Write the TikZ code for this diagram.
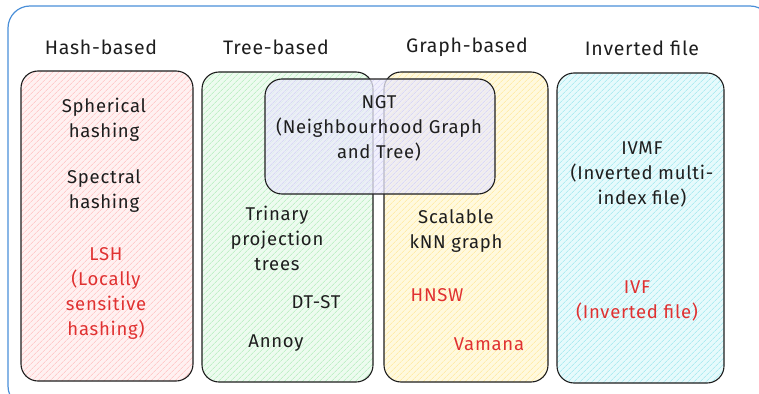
\documentclass[tikz,border=0pt]{standalone}
\usepackage{fontspec}
\setmainfont{Fira Sans}[LetterSpace=4]
\usetikzlibrary{patterns.meta}
\definecolor{ink}{HTML}{1E1E1E}
\definecolor{inkred}{HTML}{E03131}
\definecolor{frameblue}{HTML}{4A8FD8}
\definecolor{redbg}{HTML}{FFF1F1}
\definecolor{redln}{HTML}{FFB8B8}
\definecolor{greenbg}{HTML}{EDFBEF}
\definecolor{greenln}{HTML}{A8EBB2}
\definecolor{yellowbg}{HTML}{FFF9DE}
\definecolor{yellowln}{HTML}{FFE68F}
\definecolor{cyanbg}{HTML}{E6FAFC}
\definecolor{cyanln}{HTML}{92E3EC}
\definecolor{violetbg}{HTML}{ECEBFB}
\definecolor{violetln}{HTML}{C9C6F4}
\tikzset{
  catbox/.style n args={2}{draw=ink, line width=1.1pt, rounded corners=17pt,
    preaction={fill=#1},
    pattern={Lines[angle=45,distance=4pt,line width=0.55pt]}, pattern color=#2,
    inner sep=0pt},
  heading/.style={text=ink, font=\fontsize{19.5}{25}\selectfont},
  item/.style={text=ink, align=center, font=\fontsize{18.5}{25}\selectfont},
  reditem/.style={item, text=inkred}
}
\begin{document}
\begin{tikzpicture}[x=1pt,y=-1pt]
\useasboundingbox (0,0) rectangle (759,393);
% outer frame
\draw[frameblue, line width=1.2pt, rounded corners=22pt] (8,6) rectangle (772,408);

% category panels
\node[catbox={redbg}{redln}, minimum width=172pt, minimum height=310pt] (hash) at (107,226) {};
\node[catbox={greenbg}{greenln}, minimum width=171pt, minimum height=310pt] (tree) at (287.5,227) {};
\node[catbox={yellowbg}{yellowln}, minimum width=164pt, minimum height=310pt] (graph) at (466,227) {};
\node[catbox={cyanbg}{cyanln}, minimum width=167pt, minimum height=310pt] (inv) at (640.5,228) {};
% NGT overlaps tree and graph panels, translucent so their edges show through
\path[preaction={fill=violetbg, fill opacity=0.75},
      pattern={Lines[angle=45,distance=4pt,line width=0.55pt]}, pattern color=violetln,
      fill opacity=0.85, rounded corners=17pt]
      (265,79) rectangle (495,194);
\node[draw=ink, line width=1.1pt, rounded corners=17pt, inner sep=0pt,
      minimum width=230pt, minimum height=115pt] (ngt) at (380,136.5) {};

% headings
\node[heading] (hashT) at (101,47) {Hash-based};
\node[heading] (treeT) at (276,47) {Tree-based};
\node[heading] (graphT) at (467,47) {Graph-based};
\node[heading] (invT) at (642,48) {Inverted file};

% hash-based methods
\node[item] (sph) at (104,120) {Spherical\\hashing};
\node[item] (spec) at (104,191) {Spectral\\hashing};
\node[reditem] (lsh) at (106,293) {LSH\\(Locally\\sensitive\\hashing)};

% tree-based methods
\node[item] (tpt) at (277,238) {Trinary\\projection\\trees};
\node[item] (dtst) at (316,302) {DT-ST};
\node[item] (annoy) at (276,343) {Annoy};

% NGT
\node[item] (ngtT) at (379,128) {NGT\\(Neighbourhood Graph\\and Tree)};

% graph-based methods
\node[item] (skg) at (456,231) {Scalable\\kNN graph};
\node[reditem] (hnsw) at (437,295) {HNSW};
\node[reditem] (vam) at (489,344) {Vamana};

% inverted file methods
\node[item] (ivmf) at (642,174) {IVMF\\(Inverted multi-\\index file)};
\node[reditem] (ivf) at (637,301) {IVF\\(Inverted file)};
\end{tikzpicture}
\end{document}
